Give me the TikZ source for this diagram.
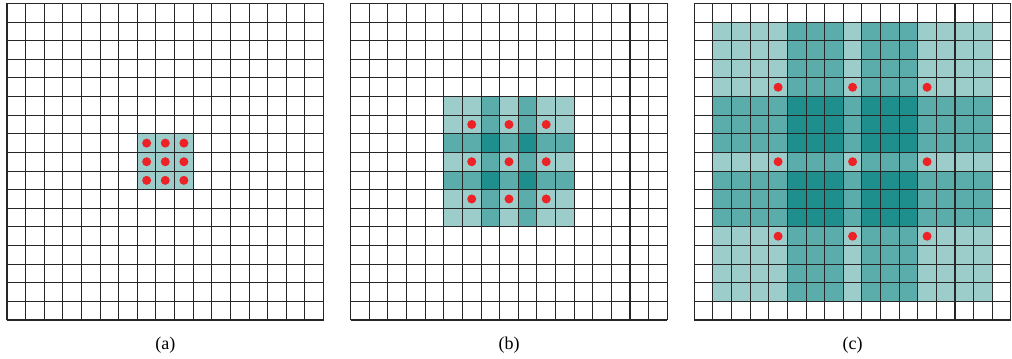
\documentclass[tikz,border=0pt]{standalone}
\usepackage{fontspec}
\setmainfont{Liberation Serif}
\definecolor{rf1}{HTML}{9DCDCB}
\definecolor{rf2}{HTML}{5BADAB}
\definecolor{rf4}{HTML}{1F8F8D}
\definecolor{dotred}{HTML}{EC2227}
\definecolor{gridgray}{HTML}{262626}
\tikzset{
  gridline/.style={gridgray, line width=0.8pt},
  dot/.style={fill=dotred},
  caption/.style={font=\fontsize{13.5}{15}\selectfont},
}
\newcommand{\cellsz}{18.62}
% 17 x 17 grid of cells
\newcommand{\rfgrid}{%
  \foreach \k in {0,...,17} {
    \draw[gridline] (\k*\cellsz,0) -- (\k*\cellsz,17*\cellsz);
    \draw[gridline] (0,\k*\cellsz) -- (17*\cellsz,\k*\cellsz);
  }}

\begin{document}
\begin{tikzpicture}[x=0.75pt,y=0.75pt]
    \useasboundingbox (0,0) rectangle (1012,358);
    % (a) 3x3 kernel
    \begin{scope}[shift={(7,38)}]
        \foreach \i in {7,8,9}
            \foreach \j in {7,8,9}
                \fill[rf1] (\i*\cellsz,\j*\cellsz) rectangle ++(\cellsz,\cellsz);
        \rfgrid
        \foreach \i in {7,8,9}
            \foreach \j in {7,8,9}
                \fill[dot] ({(\i+0.5)*\cellsz},{(\j+0.5)*\cellsz}) circle (4.5);
        \node[caption] (lab-a) at (158.3,-25.5) {(a)};
    \end{scope}
    % (b) dilation 2
    \begin{scope}[shift={(350.7,38)}]
        \foreach \i/\wi in {5/1,6/1,7/2,8/1,9/2,10/1,11/1}
            \foreach \j/\wj in {5/1,6/1,7/2,8/1,9/2,10/1,11/1} {
                \pgfmathtruncatemacro\w{\wi*\wj}
                \fill[rf\w] (\i*\cellsz,\j*\cellsz) rectangle ++(\cellsz,\cellsz);
            }
        \rfgrid
        \foreach \i in {6,8,10}
            \foreach \j in {6,8,10}
                \fill[dot] ({(\i+0.5)*\cellsz},{(\j+0.5)*\cellsz}) circle (4.5);
        \node[caption] (lab-b) at (158.3,-25.5) {(b)};
    \end{scope}
    % (c) dilation 4
    \begin{scope}[shift={(694.3,38)}]
        \foreach \i/\wi in {1/1,2/1,3/1,4/1,5/2,6/2,7/2,8/1,9/2,10/2,11/2,12/1,13/1,14/1,15/1}
            \foreach \j/\wj in {1/1,2/1,3/1,4/1,5/2,6/2,7/2,8/1,9/2,10/2,11/2,12/1,13/1,14/1,15/1} {
                \pgfmathtruncatemacro\w{\wi*\wj}
                \fill[rf\w] (\i*\cellsz,\j*\cellsz) rectangle ++(\cellsz,\cellsz);
            }
        \rfgrid
        \foreach \i in {4,8,12}
            \foreach \j in {4,8,12}
                \fill[dot] ({(\i+0.5)*\cellsz},{(\j+0.5)*\cellsz}) circle (4.5);
        \node[caption] (lab-c) at (158.3,-25.5) {(c)};
    \end{scope}
\end{tikzpicture}
\end{document}
